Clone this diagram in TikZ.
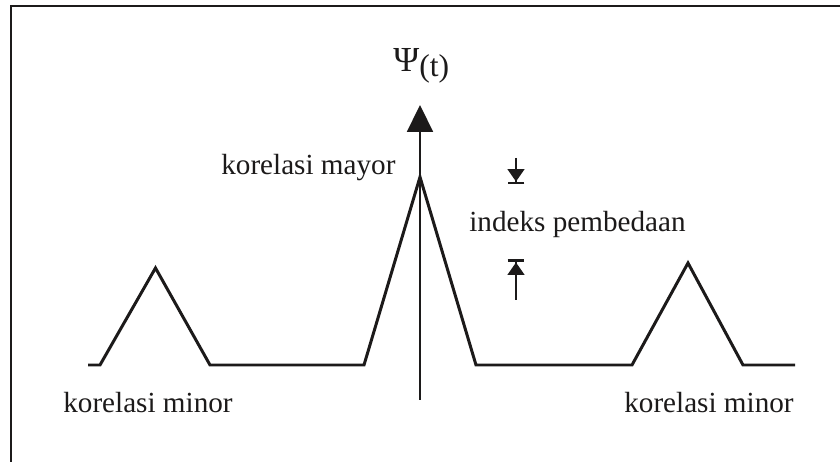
\documentclass[tikz,border=0pt]{standalone}
\usepackage{fontspec}
\setmainfont{Liberation Serif}
\usetikzlibrary{arrows.meta}
\definecolor{Ink}{HTML}{1C1A1A}
\definecolor{Paper}{HTML}{FFFFFF}
\tikzset{frame/.style={draw=Ink,line width=1.1pt},wave/.style={draw=Ink,line width=1.7pt,line join=miter},axisline/.style={draw=Ink,line width=1.4pt,-{Triangle[length=15.3pt,width=14.7pt]}},axistail/.style={draw=Ink,line width=0.6pt},marker/.style={draw=Ink,line width=0.6pt,-{Triangle[length=7pt,width=9.6pt]Bar[width=9.6pt,line width=1.7pt]}},caption/.style={text=Ink,font=\fontsize{16.6}{20}\selectfont,inner sep=0pt,anchor=base west}}
\begin{document}
\begin{tikzpicture}[x=0.02cm,y=-0.02cm]
\useasboundingbox (0,0) rectangle (840,462);
\fill[Paper] (0,0) rectangle (840,462);
\draw[frame] (11,6) rectangle (870,490);
\coordinate (w0) at (88,365);
\coordinate (w1) at (100,365);
\coordinate (p1) at (155.5,268);
\coordinate (w2) at (210,365);
\coordinate (w3) at (364,365);
\coordinate (p2) at (420,177);
\coordinate (w4) at (476,365);
\coordinate (w5) at (632,365);
\coordinate (p3) at (688,263);
\coordinate (w6) at (743,365);
\coordinate (w7) at (795,365);
\coordinate (axbot) at (420,400);
\coordinate (axbase) at (420,365);
\coordinate (axtop) at (420,105);
\draw[wave] (w0) -- (w1) -- (p1) -- (w2) -- (w3) -- (p2) -- (w4) -- (w5) -- (p3) -- (w6) -- (w7);
\draw[axistail] (axbot) -- (axbase);
\draw[axisline] (axbase) -- (axtop);
\node[caption] (psi) at (393,72) {\fontsize{20}{24}\selectfont Ψ\raisebox{-2.3pt}{\fontsize{18}{20}\selectfont(t)}};
\node[caption] (mayor) at (221,175) {korelasi mayor};
\node[caption] (indeks) at (469,232) {indeks pembedaan};
\node[caption] (minorL) at (63,413) {korelasi minor};
\node[caption] (minorR) at (624,413) {korelasi minor};
\coordinate (topstart) at (516,158);
\coordinate (topend) at (516,184.5);
\coordinate (botstart) at (516,300);
\coordinate (botend) at (516,259.5);
\draw[marker] (topstart) -- (topend);
\draw[marker] (botstart) -- (botend);
\end{tikzpicture}
\end{document}
